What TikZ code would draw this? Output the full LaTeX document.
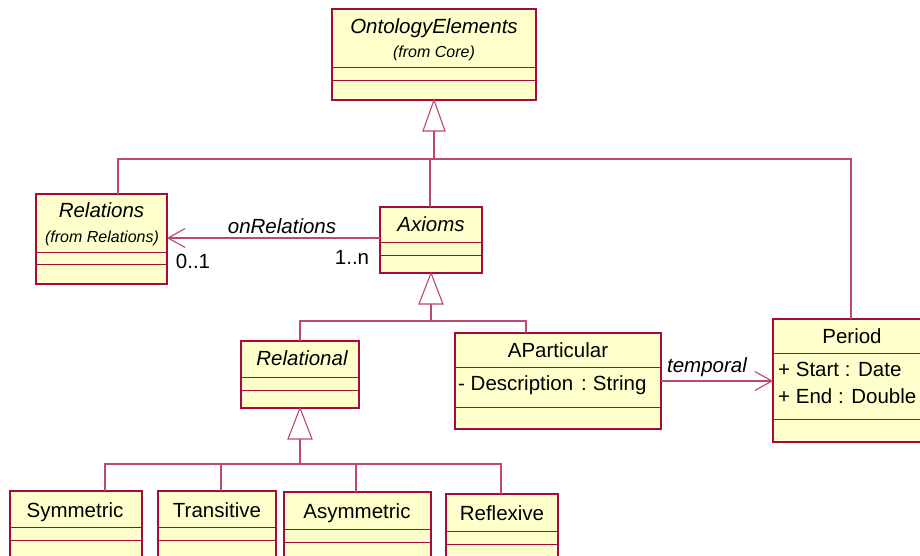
\documentclass[tikz,border=0pt]{standalone}
\usepackage{fontspec}
\setmainfont{Liberation Sans}
\usetikzlibrary{arrows.meta}
\definecolor{bord}{RGB}{165,10,60}
\definecolor{connc}{RGB}{190,70,115}
\definecolor{clsfill}{RGB}{255,255,204}
\newcommand\umlcls[7]{%
  \node[clsbox, minimum width={(#4-#2)*1pt}, minimum height={(#5-#3)*1pt}] (#1) at (#2,#3) {};
  \draw[comp] (#2,#6) -- (#4,#6) (#2,#7) -- (#4,#7);
}
\begin{document}
\begin{tikzpicture}[x=1pt,y=-1pt,
  clsbox/.style={draw=bord, fill=clsfill, line width=1.2pt, inner sep=0pt, outer sep=0pt, anchor=north west},
  comp/.style={draw=bord, line width=1pt},
  conn/.style={draw=connc, line width=1.1pt},
  assoc/.style={conn, -{Straight Barb[length=17pt,width=19pt,line width=1.1pt]}},
  nm/.style={anchor=base, inner sep=0pt, font=\fontsize{20.5}{24}\selectfont},
  nmi/.style={anchor=base, inner sep=0pt, font=\fontsize{20.5}{24}\selectfont\itshape},
  frm/.style={anchor=base, inner sep=0pt, font=\fontsize{16}{19}\selectfont\itshape},
  attr/.style={anchor=base west, inner sep=0pt, font=\fontsize{20.5}{24}\selectfont}
]
\useasboundingbox (0,0) rectangle (920,555);
\clip (0,0) rectangle (920,555);
\fill[white] (0,0) rectangle (920,555);

% classes
\umlcls{ont}{332}{9}{536}{100}{67}{80}
\umlcls{rel}{36}{194}{167}{284}{252}{264}
\umlcls{ax}{380}{207}{482}{273}{242}{255}
\umlcls{relnl}{241}{341}{359}{408}{377}{390}
\umlcls{apart}{455}{333}{661}{429}{367}{407}
\umlcls{period}{773}{319}{945}{442}{353}{419}
\umlcls{sym}{10}{491}{142}{580}{527}{540}
\umlcls{tra}{158}{491}{276}{580}{527}{540}
\umlcls{asy}{284}{492}{431}{580}{529}{542}
\umlcls{ref}{446}{494}{558}{580}{531}{544}

% texts
\node[nmi] (tont) at (434,33) {OntologyElements};
\node[frm] (font) at (434,57) {(from Core)};
\node[nmi] (trel) at (101.5,217) {Relations};
\node[frm] (frel) at (102,242) {(from Relations)};
\node[nmi] (tax) at (431,231) {Axioms};
\node[nmi] (trelnl) at (302,365) {Relational};
\node[nm] (tapart) at (558,357) {AParticular};
\node[attr] (adesc) at (458,390) {- Description\hspace{8pt}:\hspace{6pt}String};
\node[nm] (tper) at (852,343) {Period};
\node[attr] (astart) at (778,376) {+ Start : Date};
\node[attr] (aend) at (778,403) {+ End : Double};
\node[nm] (tsym) at (75,517) {Symmetric};
\node[nm] (ttra) at (217,517) {Transitive};
\node[nm] (tasy) at (357,518) {Asymmetric};
\node[nm] (tref) at (502,520) {Reflexive};

% generalization 1
\draw[conn, fill=white] (ont.south) -- ++(-11,31) -- ++(22,0) -- cycle;
\path (ont.south) ++(0,31) coordinate (g1);
\coordinate (b1) at (434,159);
\draw[conn] (g1) -- (b1);
\draw[conn] (b1) -| ([xshift=82pt]rel.north west);
\draw[conn] (b1) -| ([xshift=50pt]ax.north west);
\draw[conn] (b1) -| ([xshift=78pt]period.north west);

% generalization 2
\draw[conn, fill=white] (ax.south) -- ++(-12,31) -- ++(24,0) -- cycle;
\path (ax.south) ++(0,31) coordinate (g2);
\coordinate (b2) at (431,321);
\draw[conn] (g2) -- (b2);
\draw[conn] (b2) -| (relnl.north);
\draw[conn] (b2) -| ([xshift=71pt]apart.north west);

% generalization 3
\draw[conn, fill=white] (relnl.south) -- ++(-12,31) -- ++(24,0) -- cycle;
\path (relnl.south) ++(0,31) coordinate (g3);
\coordinate (b3) at (300,464);
\draw[conn] (g3) -- (b3);
\draw[conn] (b3) -| ([xshift=95pt]sym.north west);
\draw[conn] (b3) -| ([xshift=63pt]tra.north west);
\draw[conn] (b3) -| ([xshift=72pt]asy.north west);
\draw[conn] (b3) -| ([xshift=55pt]ref.north west);

% associations
\draw[assoc] ([yshift=2pt]ax.west) -- ([yshift=1pt]rel.east);
\draw[assoc] (apart.east) -- (apart.east -| period.west);

% association labels
\node[nmi] (lonrel) at (282,233) {onRelations};
\node[nm] (m01) at (193,268) {0..1};
\node[nm] (m1n) at (352,264) {1..n};
\node[nmi] (ltemp) at (707,372) {temporal};
\end{tikzpicture}
\end{document}
